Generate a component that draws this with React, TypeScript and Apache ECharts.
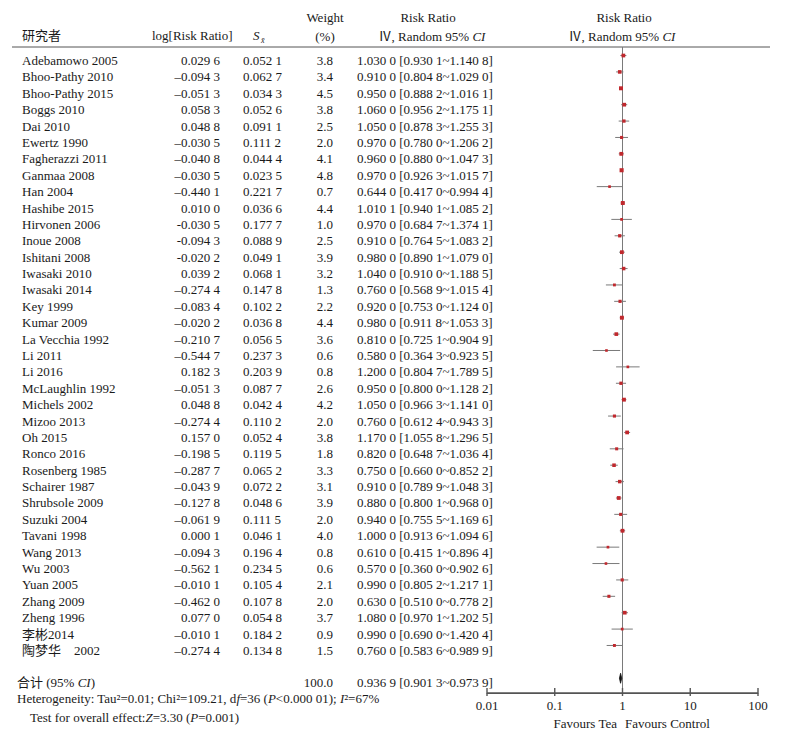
import React, { useEffect, useRef } from "react";
import * as echarts from "echarts";

const studies = [
  "Adebamowo 2005", "Bhoo-Pathy 2010", "Bhoo-Pathy 2015", "Boggs 2010", "Dai 2010",
  "Ewertz 1990", "Fagherazzi 2011", "Ganmaa 2008", "Han 2004", "Hashibe 2015",
  "Hirvonen 2006", "Inoue 2008", "Ishitani 2008", "Iwasaki 2010", "Iwasaki 2014",
  "Key 1999", "Kumar 2009", "La Vecchia 1992", "Li 2011", "Li 2016",
  "McLaughlin 1992", "Michels 2002", "Mizoo 2013", "Oh 2015", "Ronco 2016",
  "Rosenberg 1985", "Schairer 1987", "Shrubsole 2009", "Suzuki 2004", "Tavani 1998",
  "Wang 2013", "Wu 2003", "Yuan 2005", "Zhang 2009", "Zheng 1996",
  "李彬2014", "陶梦华　2002",
];
const logRR = [
  0.0296, -0.0943, -0.0513, 0.0583, 0.0488, -0.0305, -0.0408, -0.0305, -0.4401, 0.0100,
  -0.0305, -0.0943, -0.0202, 0.0392, -0.2744, -0.0834, -0.0202, -0.2107, -0.5447, 0.1823,
  -0.0513, 0.0488, -0.2744, 0.1570, -0.1985, -0.2877, -0.0439, -0.1278, -0.0619, 0.0001,
  -0.0943, -0.5621, -0.0101, -0.4620, 0.0770, -0.0101, -0.2744,
];
const hyphenRows = [10, 11, 12];
const seVals = [
  0.0521, 0.0627, 0.0343, 0.0526, 0.0911, 0.1112, 0.0444, 0.0235, 0.2217, 0.0366,
  0.1777, 0.0889, 0.0491, 0.0681, 0.1478, 0.1022, 0.0368, 0.0565, 0.2373, 0.2039,
  0.0877, 0.0424, 0.1102, 0.0524, 0.1195, 0.0652, 0.0722, 0.0486, 0.1115, 0.0461,
  0.1964, 0.2345, 0.1054, 0.1078, 0.0548, 0.1842, 0.1348,
];
const weights = [
  3.8, 3.4, 4.5, 3.8, 2.5, 2.0, 4.1, 4.8, 0.7, 4.4,
  1.0, 2.5, 3.9, 3.2, 1.3, 2.2, 4.4, 3.6, 0.6, 0.8,
  2.6, 4.2, 2.0, 3.8, 1.8, 3.3, 3.1, 3.9, 2.0, 4.0,
  0.8, 0.6, 2.1, 2.0, 3.7, 0.9, 1.5,
];
const rrVals = [
  1.0300, 0.9100, 0.9500, 1.0600, 1.0500, 0.9700, 0.9600, 0.9700, 0.6440, 1.0101,
  0.9700, 0.9100, 0.9800, 1.0400, 0.7600, 0.9200, 0.9800, 0.8100, 0.5800, 1.2000,
  0.9500, 1.0500, 0.7600, 1.1700, 0.8200, 0.7500, 0.9100, 0.8800, 0.9400, 1.0000,
  0.6100, 0.5700, 0.9900, 0.6300, 1.0800, 0.9900, 0.7600,
];
const lowerVals = [
  0.9301, 0.8048, 0.8882, 0.9562, 0.8783, 0.7800, 0.8800, 0.9263, 0.4170, 0.9401,
  0.6847, 0.7645, 0.8901, 0.9100, 0.5689, 0.7530, 0.9118, 0.7251, 0.3643, 0.8047,
  0.8000, 0.9663, 0.6124, 1.0558, 0.6487, 0.6600, 0.7899, 0.8001, 0.7555, 0.9136,
  0.4151, 0.3600, 0.8052, 0.5100, 0.9701, 0.6900, 0.5836,
];
const upperVals = [
  1.1408, 1.0290, 1.0161, 1.1751, 1.2553, 1.2062, 1.0473, 1.0157, 0.9944, 1.0852,
  1.3741, 1.0832, 1.0790, 1.1885, 1.0154, 1.1240, 1.0533, 0.9049, 0.9235, 1.7895,
  1.1282, 1.1410, 0.9433, 1.2965, 1.0364, 0.8522, 1.0483, 0.9680, 1.1696, 1.0946,
  0.8964, 0.9026, 1.2171, 0.7782, 1.2025, 1.4204, 0.9899,
];
const xTicks = [0.01, 0.1, 1, 10, 100];
const totalRow = 38;
const totalWeight = 100.0;
const totalRR = 0.9369;
const totalLower = 0.9013;
const totalUpper = 0.9739;
const heterogeneity = "Heterogeneity: Tau²=0.01; Chi²=109.21, d{i|f}=36 ({i|P}<0.000 01); {i|I}²=67%";
const overallEffect = "Test for overall effect:{i|Z}=3.30 ({i|P}=0.001)";
const favoursLeft = "Favours Tea";
const favoursRight = "Favours Control";

const FF = "Liberation Serif, Times New Roman, Noto Sans CJK SC, serif";
const FS = 13;
const TXT = "#1a1a1a";
const RED = "#c0282d";
const GRAY = "#7a7a7a";
const AXIS_C = "#555555";
const AXIS_ROW = 38.9;
const TOP_ROW = -0.52;

function spaced4(v: number): string {
  const s = Math.abs(v).toFixed(4);
  return s.slice(0, -1) + " " + s.slice(-1);
}
function signed4(v: number, hyphen: boolean): string {
  const sgn = v < 0 ? (hyphen ? "-" : "\u2013") : "";
  return sgn + spaced4(v);
}
function ciText(rr: number, lo: number, hi: number): string {
  return `${spaced4(rr)} [${spaced4(lo)}~${spaced4(hi)}]`;
}
const ry = (row: number) => row - AXIS_ROW;

export default function App() {
  const ref = useRef<HTMLDivElement>(null);
  useEffect(() => {
    if (!ref.current) return;
    const chart = echarts.init(ref.current, undefined, { renderer: "svg" });
    const italic = { fontStyle: "italic", fontSize: FS, fontFamily: FF, fill: TXT };
    const txt = (x: number, y: number, text: string, align = "left", extra: any = {}) => ({
      type: "text",
      x,
      y,
      silent: true,
      style: {
        text,
        fontSize: FS,
        fontFamily: FF,
        fill: TXT,
        textAlign: align,
        textVerticalAlign: "middle",
        rich: { i: italic },
        ...extra,
      },
    });
    const rowData = studies.map((_, i) => [rrVals[i], ry(i), lowerVals[i], upperVals[i], weights[i], i]);
    const TEXT_DY = 5;
    const option: any = {
      animation: false,
      backgroundColor: "#fff",
      grid: { left: 487, right: 28, top: 47, bottom: 49, containLabel: false },
      xAxis: {
        type: "log",
        logBase: 10,
        min: 0.01,
        max: 100,
        position: "bottom",
        axisLine: { show: true, onZero: false, lineStyle: { color: AXIS_C, width: 1 } },
        axisTick: { show: false },
        axisLabel: {
          fontSize: FS,
          fontFamily: FF,
          color: TXT,
          margin: 6,
          formatter: (v: number) => String(+v.toPrecision(6)),
        },
        splitLine: { show: false },
        minorTick: { show: false },
      },
      yAxis: {
        type: "value",
        inverse: true,
        min: ry(TOP_ROW),
        max: 0,
        show: false,
      },
      series: [
        {
          type: "line",
          data: [[1, ry(TOP_ROW)], [1, 0]],
          symbol: "none",
          lineStyle: { color: GRAY, width: 1 },
          silent: true,
          z: 1,
        },
        {
          // axis baseline and tick marks, drawn through the scales
          type: "custom",
          data: xTicks.map((v) => [v, 0]),
          encode: { x: 0, y: 1 },
          clip: false,
          z: 5,
          renderItem: (params: any, api: any) => {
            const p = api.coord([api.value(0), 0]);
            const children: any[] = [
              {
                type: "rect",
                shape: { x: p[0] - 0.7, y: p[1] - 5, width: 1.4, height: 8 },
                style: { fill: AXIS_C },
              },
            ];
            if (params.dataIndex === 0) {
              const a = api.coord([xTicks[0], 0]);
              const b = api.coord([xTicks[xTicks.length - 1], 0]);
              children.push({
                type: "rect",
                shape: { x: a[0], y: a[1] - 0.7, width: b[0] - a[0], height: 1.4 },
                style: { fill: AXIS_C },
              });
            }
            return { type: "group", children };
          },
        },
        {
          type: "custom",
          data: rowData,
          encode: { x: 0, y: 1 },
          clip: false,
          z: 3,
          renderItem: (params: any, api: any) => {
            const row = api.value(1);
            const p = api.coord([api.value(0), row]);
            const l = api.coord([api.value(2), row]);
            const h = api.coord([api.value(3), row]);
            const s = 2.4 + api.value(4) * 0.35;
            return {
              type: "group",
              children: [
                {
                  type: "line",
                  shape: { x1: l[0], y1: l[1], x2: h[0], y2: h[1] },
                  style: { stroke: GRAY, lineWidth: 1 },
                },
                {
                  type: "rect",
                  shape: { x: p[0] - s / 2, y: p[1] - s / 2, width: s, height: s },
                  style: { fill: RED },
                },
              ],
            };
          },
        },
        {
          type: "custom",
          data: [[totalRR, ry(totalRow), totalLower, totalUpper]],
          encode: { x: 0, y: 1 },
          clip: false,
          z: 3,
          renderItem: (params: any, api: any) => {
            const row = api.value(1);
            const p = api.coord([api.value(0), row]);
            const l = api.coord([api.value(2), row]);
            const h = api.coord([api.value(3), row]);
            const hh = 5;
            return {
              type: "polygon",
              shape: { points: [[l[0], p[1]], [p[0], p[1] - hh], [h[0], p[1]], [p[0], p[1] + hh]] },
              style: { fill: "#111", stroke: "#111", lineWidth: 0.8 },
            };
          },
        },
        {
          type: "custom",
          data: rowData,
          encode: { x: 0, y: 1 },
          clip: false,
          z: 2,
          renderItem: (params: any, api: any) => {
            const i = api.value(5);
            const y = api.coord([1, api.value(1)])[1] + TEXT_DY;
            const base = { fontSize: FS, fontFamily: FF, fill: TXT, textVerticalAlign: "middle" };
            const t = (x: number, text: string, align: string) => ({
              type: "text",
              style: { ...base, x, y, text, textAlign: align },
            });
            return {
              type: "group",
              children: [
                t(22, studies[i], "left"),
                t(220, signed4(logRR[i], hyphenRows.includes(i)), "right"),
                t(243, spaced4(seVals[i]), "left"),
                t(333, weights[i].toFixed(1), "right"),
                t(357, ciText(rrVals[i], lowerVals[i], upperVals[i]), "left"),
              ],
            };
          },
        },
      ],
      graphic: [
        txt(22, 35, "研究者"),
        txt(152, 35, "log[Risk Ratio]"),
        txt(253, 35, "S", "left", { fontStyle: "italic" }),
        txt(261, 40, "x̄", "left", { fontStyle: "italic", fontSize: 8 }),
        txt(325, 17, "Weight", "center"),
        txt(325, 36, "(%)", "center"),
        txt(428, 17, "Risk Ratio", "center"),
        txt(432, 36, "Ⅳ, Random 95% {i|CI}", "center"),
        txt(624, 17, "Risk Ratio", "center"),
        txt(622, 36, "Ⅳ, Random 95% {i|CI}", "center"),
        {
          type: "line",
          silent: true,
          shape: { x1: 12, y1: 47, x2: 770, y2: 47 },
          style: { stroke: "#555", lineWidth: 1 },
        },
        txt(17, 682, "合计 (95% {i|CI})"),
        txt(333, 682, totalWeight.toFixed(1), "right"),
        txt(357, 682, ciText(totalRR, totalLower, totalUpper)),
        txt(17, 698, heterogeneity),
        txt(30, 717, overallEffect),
        txt(617, 723, favoursLeft, "right"),
        txt(625, 723, favoursRight, "left"),
      ],
    };
    chart.setOption(option);
    return () => chart.dispose();
  }, []);
  return (
    <div
      ref={ref}
      style={{ position: "fixed", left: 0, top: 0, width: 786, height: 742, background: "#fff" }}
    />
  );
}
